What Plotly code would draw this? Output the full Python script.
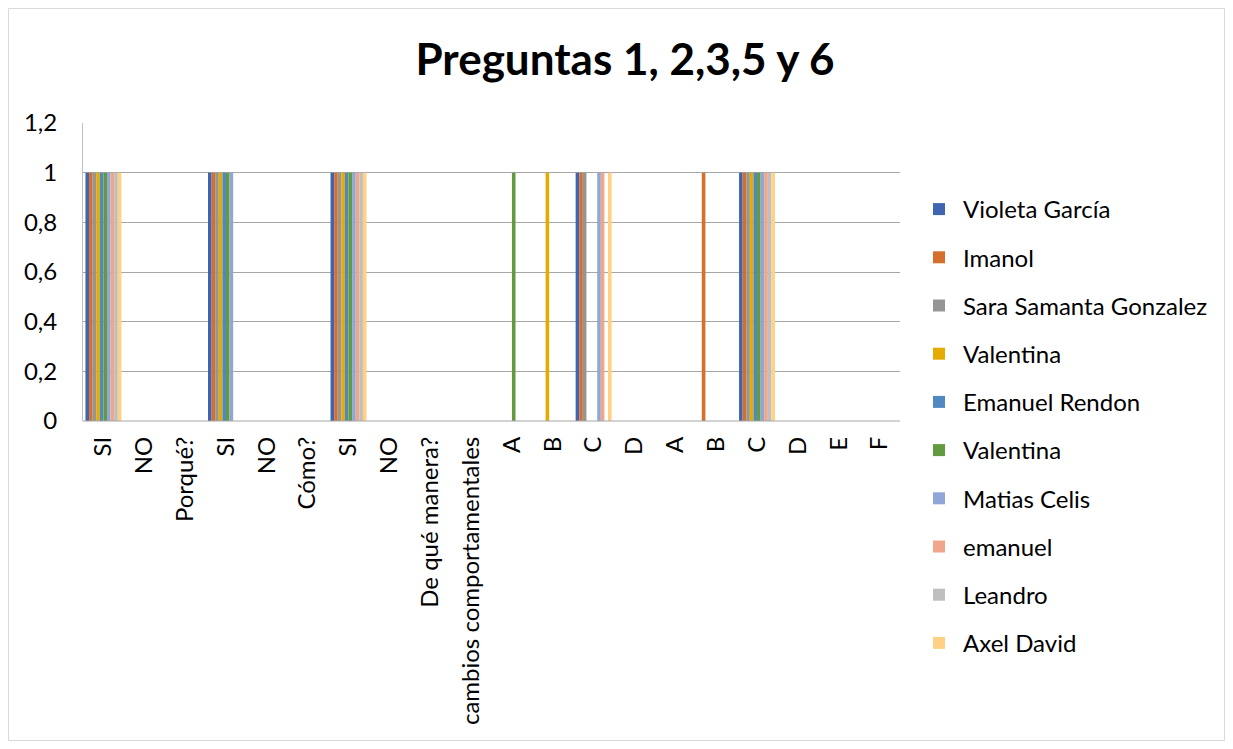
import plotly.graph_objects as go

categories = ["SI", "NO", "Porqué?", "SI", "NO", "Cómo?", "SI", "NO", "De qué manera?",
              "cambios comportamentales", "A", "B", "C", "D", "A", "B", "C", "D", "E", "F"]

series_names = ["Violeta García", "Imanol", "Sara Samanta Gonzalez", "Valentina",
                "Emanuel Rendon", "Valentina", "Matias Celis", "emanuel", "Leandro", "Axel David"]

violeta  = [1, 0, 0, 1, 0, 0, 1, 0, 0, 0, 0, 0, 1, 0, 0, 0, 1, 0, 0, 0]
imanol   = [1, 0, 0, 1, 0, 0, 1, 0, 0, 0, 0, 0, 1, 0, 0, 1, 1, 0, 0, 0]
sara     = [1, 0, 0, 1, 0, 0, 1, 0, 0, 0, 0, 0, 1, 0, 0, 0, 1, 0, 0, 0]
valent1  = [1, 0, 0, 1, 0, 0, 1, 0, 0, 0, 0, 1, 0, 0, 0, 0, 1, 0, 0, 0]
emanuelr = [1, 0, 0, 1, 0, 0, 1, 0, 0, 0, 0, 0, 0, 0, 0, 0, 1, 0, 0, 0]
valent2  = [1, 0, 0, 1, 0, 0, 1, 0, 0, 0, 1, 0, 0, 0, 0, 0, 1, 0, 0, 0]
matias   = [1, 0, 0, 1, 0, 0, 1, 0, 0, 0, 0, 0, 1, 0, 0, 0, 1, 0, 0, 0]
emanuel  = [1, 0, 0, 0, 0, 0, 1, 0, 0, 0, 0, 0, 1, 0, 0, 0, 1, 0, 0, 0]
leandro  = [1, 0, 0, 0, 0, 0, 1, 0, 0, 0, 0, 0, 0, 0, 0, 0, 1, 0, 0, 0]
axel     = [1, 0, 0, 0, 0, 0, 1, 0, 0, 0, 0, 0, 1, 0, 0, 0, 1, 0, 0, 0]

series_values = [violeta, imanol, sara, valent1, emanuelr, valent2, matias, emanuel, leandro, axel]

colors = ["#3F65B0", "#D5702C", "#959595", "#E5AB00", "#5089C2",
          "#629B3F", "#8FA6D7", "#F0A68A", "#BFBFBF", "#FFD185"]

y_ticks = [0, 0.2, 0.4, 0.6, 0.8, 1, 1.2]
y_ticktext = ["0", "0,2", "0,4", "0,6", "0,8", "1", "1,2"]

x_pos = list(range(len(categories)))

fig = go.Figure()
for i, (name, vals) in enumerate(zip(series_names, series_values)):
    fig.add_trace(go.Bar(
        x=x_pos, y=vals, name=name, marker=dict(color=colors[i], line=dict(width=0)),
        legendgroup=f"g{i}",
    ))

FONT = "Lato, 'Open Sans', sans-serif"

# page offset of 8px (body margin); page-coordinate plot area: x 83..900, y 123..421
OFF = 8
L, R, T, B = 83, 900, 123, 421
W, H = 1233 - 2 * OFF, 749 - 2 * OFF
pw, ph = R - L, B - T


def px(x):
    return (x - L) / pw


def py(y):
    return (B - y) / ph


fig.update_layout(
    width=W, height=H,
    margin=dict(l=L - OFF, r=W - (R - OFF), t=T - OFF, b=H - (B - OFF), pad=0),
    barmode="group", bargap=0.12, bargroupgap=0,
    paper_bgcolor="white", plot_bgcolor="white",
    font=dict(family=FONT, size=24, color="#000000"),
    title=dict(text="<b>Preguntas 1, 2,3,5 y 6</b>", x=(625 - OFF) / W, xanchor="center",
               y=1 - (60 - OFF) / H, yanchor="middle",
               font=dict(family=FONT, size=44, color="#000000")),
    xaxis=dict(
        tickmode="array", tickvals=x_pos, ticktext=categories, tickangle=-90,
        range=[-0.5, len(categories) - 0.5], showgrid=False, zeroline=False,
        showline=False, ticks="", tickfont=dict(size=24, color="#000000"),
        ticklabelstandoff=10, fixedrange=True,
    ),
    yaxis=dict(
        range=[0, 1.2], tickmode="array", tickvals=y_ticks, ticktext=y_ticktext,
        showgrid=True, gridcolor="#A6A6A6", gridwidth=1, zeroline=False,
        showline=True, linecolor="#BFBFBF", linewidth=1, ticks="",
        tickfont=dict(size=24, color="#000000"), ticklabelstandoff=20,
    ),
    legend=dict(
        x=px(915), xanchor="left", y=py(187), yanchor="top",
        font=dict(size=24, color="#000000"), tracegroupgap=14,
        itemwidth=38, bgcolor="rgba(0,0,0,0)", maxheight=700,
    ),
    showlegend=True,
    shapes=[
        dict(type="line", xref="paper", yref="paper", x0=0, x1=1, y0=0, y1=0,
             line=dict(color="#A6A6A6", width=1)),
        dict(type="rect", xref="paper", yref="paper",
             x0=px(OFF + 0.5), x1=px(OFF + W - 0.5), y0=py(OFF + H - 0.5), y1=py(OFF + 0.5),
             line=dict(color="#D9D9D9", width=1), fillcolor="rgba(0,0,0,0)"),
    ],
)

fig.write_html("out.html")
